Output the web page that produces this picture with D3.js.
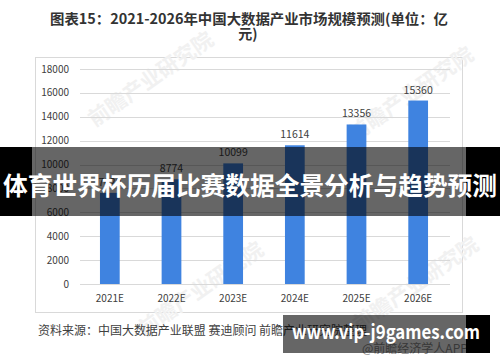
<!DOCTYPE html>
<html>
<head>
<meta charset="utf-8">
<script src="https://cdn.jsdelivr.net/npm/d3@7"></script>
<style>
  body { margin: 0; background: #fff; }
  svg { display: block; }
  text { font-family: "Noto Sans CJK SC", "Liberation Sans", sans-serif; }
</style>
</head>
<body>
<svg id="chart" width="500" height="362"></svg>
<script>
// chart data (2021E label sits under the banner, estimated)
var years = ["2021E", "2022E", "2023E", "2024E", "2025E", "2026E"];
var marketSize = [7629, 8774, 10099, 11614, 13356, 15360];
var yTicks = [0, 2000, 4000, 6000, 8000, 10000, 12000, 14000, 16000, 18000];

var titleLine1 = "图表15：2021-2026年中国大数据产业市场规模预测(单位：亿";
var titleLine2 = "元)";
var sourceText = "资料来源：中国大数据产业联盟 赛迪顾问 前瞻产业研究院整理";
var bannerText = "体育世界杯历届比赛数据全景分析与趋势预测";
var siteText = "www.vip-j9games.com";

var svg = d3.select("#chart");

// title
svg.append("text")
  .attr("x", 249).attr("y", 24)
  .attr("text-anchor", "middle")
  .attr("font-size", 14).attr("font-weight", "bold")
  .attr("fill", "#333")
  .attr("textLength", 398).attr("lengthAdjust", "spacingAndGlyphs")
  .text(titleLine1);
svg.append("text")
  .attr("x", 248).attr("y", 39)
  .attr("text-anchor", "middle")
  .attr("font-size", 14).attr("font-weight", "bold")
  .attr("fill", "#333")
  .text(titleLine2);

// chart frame
svg.append("rect")
  .attr("x", 35.5).attr("y", 57.5)
  .attr("width", 427).attr("height", 255)
  .attr("fill", "none").attr("stroke", "#d9d9d9");

// faint watermarks
var marks = [[155, 85], [415, 100], [205, 295], [420, 290]];
marks.forEach(function(m){
  svg.append("text")
    .attr("transform", "translate(" + m[0] + "," + m[1] + ") rotate(-35)")
    .attr("text-anchor", "middle")
    .attr("font-size", 21).attr("font-weight", "bold")
    .attr("fill", "#f1f1f1")
    .text("前瞻产业研究院");
});

var x = d3.scaleBand()
  .domain(years)
  .range([79, 449])
  .paddingInner(0.68)
  .paddingOuter(0.34);

var y = d3.scaleLinear()
  .domain([0, 18000])
  .range([284, 69]);

// gridlines
svg.append("g")
  .selectAll("line")
  .data(yTicks)
  .join("line")
  .attr("x1", 80).attr("x2", 450)
  .attr("y1", function(d){ return Math.round(y(d)) + 0.5; })
  .attr("y2", function(d){ return Math.round(y(d)) + 0.5; })
  .attr("stroke", "#d9d9d9");

// y axis labels
svg.append("g")
  .selectAll("text")
  .data(yTicks)
  .join("text")
  .attr("x", 69)
  .attr("y", function(d){ return y(d) + 3.5; })
  .attr("text-anchor", "end")
  .attr("font-size", 10)
  .attr("fill", "#404040")
  .text(function(d){ return d; });

// bars
svg.append("g")
  .selectAll("rect")
  .data(marketSize)
  .join("rect")
  .attr("x", function(d, i){ return x(years[i]); })
  .attr("width", x.bandwidth())
  .attr("y", function(d){ return y(d); })
  .attr("height", function(d){ return y(0) - y(d); })
  .attr("fill", "#3f83e0");

// value labels
svg.append("g")
  .selectAll("text")
  .data(marketSize)
  .join("text")
  .attr("x", function(d, i){ return x(years[i]) + x.bandwidth() / 2; })
  .attr("y", function(d){ return y(d) - 7; })
  .attr("text-anchor", "middle")
  .attr("font-size", 10.5)
  .attr("fill", "#404040")
  .text(function(d){ return d; });

// x axis labels
svg.append("g")
  .selectAll("text")
  .data(years)
  .join("text")
  .attr("x", function(d){ return x(d) + x.bandwidth() / 2; })
  .attr("y", 302)
  .attr("text-anchor", "middle")
  .attr("font-size", 10)
  .attr("fill", "#404040")
  .text(function(d){ return d; });

// source line
svg.append("text")
  .attr("x", 38).attr("y", 335)
  .attr("font-size", 12)
  .attr("fill", "#404040")
  .attr("textLength", 329).attr("lengthAdjust", "spacingAndGlyphs")
  .text(sourceText);
svg.append("text")
  .attr("x", 362).attr("y", 353)
  .attr("font-size", 12)
  .attr("fill", "#8c8c8c")
  .text("@前瞻经济学人APP");

// banner overlay
svg.append("rect").attr("x", 0).attr("y", 147).attr("width", 32).attr("height", 69).attr("fill", "#000");
svg.append("rect").attr("x", 466).attr("y", 147).attr("width", 34).attr("height", 69).attr("fill", "#000");
svg.append("rect").attr("x", 32).attr("y", 147).attr("width", 434).attr("height", 69)
  .attr("fill", "#000").attr("opacity", 0.6);
svg.append("text")
  .attr("x", 250).attr("y", 195)
  .attr("text-anchor", "middle")
  .attr("font-size", 25).attr("font-weight", "bold")
  .attr("fill", "#fff")
  .attr("textLength", 494).attr("lengthAdjust", "spacingAndGlyphs")
  .text(bannerText);

// site tag bottom right
svg.append("rect").attr("x", 283).attr("y", 315).attr("width", 183).attr("height", 38)
  .attr("fill", "#000").attr("opacity", 0.6);
svg.append("rect").attr("x", 466).attr("y", 315).attr("width", 24).attr("height", 38).attr("fill", "#000");
svg.append("text")
  .attr("x", 386).attr("y", 339)
  .attr("text-anchor", "middle")
  .attr("font-size", 19).attr("font-weight", "bold")
  .attr("font-family", "DejaVu Sans")
  .attr("fill", "#fff")
  .attr("textLength", 188).attr("lengthAdjust", "spacingAndGlyphs")
  .text(siteText);
</script>
</body>
</html>
